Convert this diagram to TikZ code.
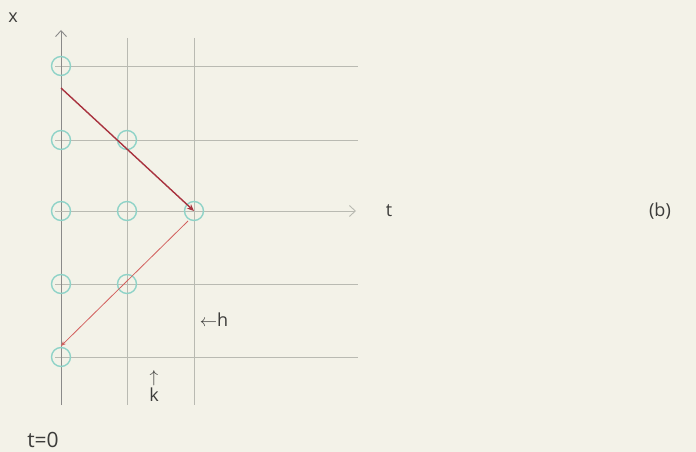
\documentclass[tikz,border=0pt]{standalone}
\usepackage{fontspec}
\setmainfont{Open Sans}
\usetikzlibrary{arrows.meta,calc}
\definecolor{paper}{HTML}{F3F2E8}
\definecolor{gridc}{HTML}{B9BAB2}
\definecolor{teal}{HTML}{8FD3C8}
\definecolor{redl}{HTML}{A8323E}
\definecolor{redt}{HTML}{D2605E}
\definecolor{ink}{HTML}{3C3C3A}
\tikzset{
  gridline/.style={draw=gridc, line width=0.9pt},
  pt/.style={circle, draw=teal, line width=1.4pt, minimum size=19pt, inner sep=0pt},
  lbl/.style={text=ink, font=\fontsize{18}{18}\selectfont, inner sep=0pt},
  axisarrow/.style={gridc, line width=0.9pt, -{Straight Barb[length=6pt,width=11pt]}},
}
\begin{document}
\begin{tikzpicture}[x=1pt,y=-1pt]
\fill[paper] (0,0) rectangle (696,452);
\useasboundingbox (0,0) rectangle (696,452);
% grid
\draw[gridline] (127,38) -- (127,405);
\draw[gridline] (194,38) -- (194,405);
\draw[gridline] (55,66) -- (358,66);
\draw[gridline] (55,140) -- (358,140);
\draw[gridline] (55,284) -- (358,284);
\draw[gridline] (55,357) -- (358,357);
% axes
\draw[axisarrow, draw=ink!60] (61,405) -- (61,30);
\draw[axisarrow] (55,211) -- (356,211);
% points
\node[pt] (p00) at (61,66) {};
\node[pt] (p10) at (61,140) {};
\node[pt] (p11) at (127,140) {};
\node[pt] (p20) at (61,211) {};
\node[pt] (p21) at (127,211) {};
\node[pt] (p22) at (194,211) {};
\node[pt] (p30) at (61,284) {};
\node[pt] (p31) at (127,284) {};
\node[pt] (p40) at (61,357) {};
\coordinate (s) at (61,88);
\coordinate (e) at (61,346);
\draw[redl, line width=1.4pt, -{Stealth[length=7pt,width=6pt]}] (s) -- (p22.center);
\draw[redt, line width=0.8pt, -{Stealth[length=5pt,width=4pt]}] ($(p22.center)+(-6,10)$) -- (e);
% labels
\node[lbl] (x) at (13,18) {x};
\node[lbl] (t) at (389,211) {t};
\node[lbl] (b) at (660,211) {(b)};
\node[lbl] (h) at (214,320) {$\leftarrow$h};
\node[lbl, align=center] (k) at (154,386) {$\uparrow$\\[1pt]k};
\node[lbl] (t0) at (43,440) {\fontsize{21}{21}\selectfont t=0};
\end{tikzpicture}
\end{document}
